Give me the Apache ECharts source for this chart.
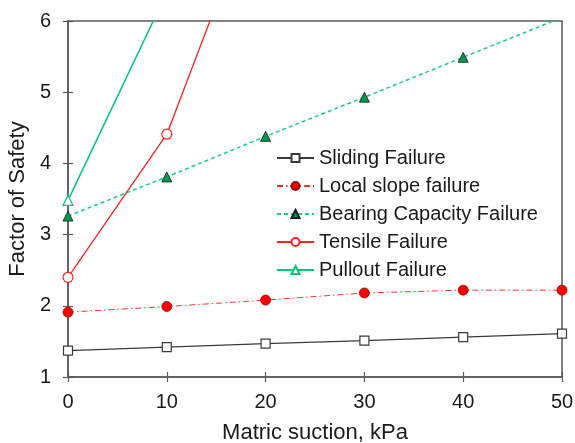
<!DOCTYPE html>
<html>
<head>
<meta charset="utf-8">
<script src="https://cdn.jsdelivr.net/npm/echarts@6/dist/echarts.min.js"></script>
<style>
  html, body { margin: 0; padding: 0; background: #fff; }
  #chart { width: 575px; height: 443px; }
</style>
</head>
<body>
<div id="chart"></div>
<script>
// Factor of safety against matric suction for each failure mode
const suction = [0, 10, 20, 30, 40, 50];
const sliding = [1.37, 1.42, 1.47, 1.51, 1.56, 1.61];
const localSlope = [1.91, 1.99, 2.08, 2.18, 2.22, 2.22];
const bearing = [3.26, 3.81, 4.38, 4.93, 5.49, 6.05];
const tensile = [2.40, 4.41, 8.05];
const pullout = [3.48, 6.40];
const yTicks = [1, 2, 3, 4, 5, 6];

const pairs = (ys) => ys.map((v, i) => [suction[i], v]);

const FONT = 'Liberation Sans, Arial, sans-serif';
const AXIS_COLOR = '#5a5a5a';

const chart = echarts.init(document.getElementById('chart'), null, { renderer: 'canvas' });

const baseX = {
  type: 'value', min: 0, max: 50, interval: 10,
  splitLine: { show: false }
};
const baseY = {
  type: 'value', min: yTicks[0], max: yTicks[yTicks.length - 1], interval: 1,
  splitLine: { show: false }
};

chart.setOption({
  animation: false,
  backgroundColor: '#ffffff',
  grid: {
    left: 68, right: 13, top: 21, bottom: 66,
    outerBoundsMode: 'none', containLabel: false,
    show: true, borderColor: AXIS_COLOR, borderWidth: 1.5, backgroundColor: 'transparent'
  },
  xAxis: [
    Object.assign({}, baseX, {
      name: 'Matric suction, kPa', nameLocation: 'middle', nameGap: 45,
      nameTextStyle: { fontFamily: FONT, fontSize: 22, color: '#1a1a1a' },
      axisLine: { show: true, onZero: false, lineStyle: { color: AXIS_COLOR, width: 1.5 } },
      axisTick: { show: true, inside: false, length: 5, lineStyle: { color: AXIS_COLOR, width: 1.2 } },
      axisLabel: { margin: 15, fontFamily: FONT, fontSize: 20, color: '#1a1a1a' }
    }),
    Object.assign({}, baseX, {
      position: 'bottom',
      axisLine: { show: false },
      axisTick: { show: true, inside: true, length: 5, lineStyle: { color: AXIS_COLOR, width: 1.2 } },
      axisLabel: { show: false }
    })
  ],
  yAxis: [
    Object.assign({}, baseY, {
      name: 'Factor of Safety', nameLocation: 'middle', nameGap: 34,
      nameTextStyle: { fontFamily: FONT, fontSize: 22, color: '#1a1a1a' },
      axisLine: { show: true, onZero: false, lineStyle: { color: AXIS_COLOR, width: 1.5 } },
      axisTick: { show: true, inside: false, length: 5, lineStyle: { color: AXIS_COLOR, width: 1.2 } },
      axisLabel: { margin: 17, fontFamily: FONT, fontSize: 20, color: '#1a1a1a' }
    }),
    Object.assign({}, baseY, {
      position: 'left',
      axisLine: { show: false },
      axisTick: { show: true, inside: true, length: 5, lineStyle: { color: AXIS_COLOR, width: 1.2 } },
      axisLabel: { show: false }
    })
  ],
  legend: {
    orient: 'vertical', left: 276, top: 148, padding: 0,
    itemWidth: 37, itemHeight: 10, itemGap: 8,
    textStyle: { fontFamily: FONT, fontSize: 20, color: '#1a1a1a' },
    data: ['Sliding Failure', 'Local slope failure', 'Bearing Capacity Failure', 'Tensile Failure', 'Pullout Failure']
  },
  series: [
    {
      name: 'Sliding Failure', type: 'line', clip: true,
      data: pairs(sliding),
      symbol: 'rect', symbolSize: 9,
      lineStyle: { color: '#3a3a3a', width: 1.2 },
      itemStyle: { color: '#ffffff', borderColor: '#3a3a3a', borderWidth: 1.2 }
    },
    {
      name: 'Local slope failure', type: 'line', clip: true,
      data: pairs(localSlope),
      symbol: 'circle', symbolSize: 10,
      lineStyle: { color: '#ff3030', width: 1, type: [6, 3, 1.5, 3] },
      itemStyle: { color: '#ff0000', borderColor: '#8a1010', borderWidth: 0.8 }
    },
    {
      name: 'Bearing Capacity Failure', type: 'line', clip: true,
      data: pairs(bearing),
      symbol: 'triangle', symbolSize: 10,
      lineStyle: { color: '#18cf86', width: 1.5, type: [4, 3] },
      itemStyle: { color: '#00984a', borderColor: '#1a1a1a', borderWidth: 0.8 }
    },
    {
      name: 'Tensile Failure', type: 'line', clip: true,
      data: pairs(tensile),
      symbol: 'circle', symbolSize: 10,
      lineStyle: { color: '#ff2020', width: 1.3 },
      itemStyle: { color: '#ffffff', borderColor: '#ff2020', borderWidth: 1.2 }
    },
    {
      name: 'Pullout Failure', type: 'line', clip: true,
      data: pairs(pullout),
      symbol: 'triangle', symbolSize: 10,
      lineStyle: { color: '#00c878', width: 1.5 },
      itemStyle: { color: '#ffffff', borderColor: '#00c878', borderWidth: 1.2 }
    }
  ]
});
</script>
</body>
</html>
